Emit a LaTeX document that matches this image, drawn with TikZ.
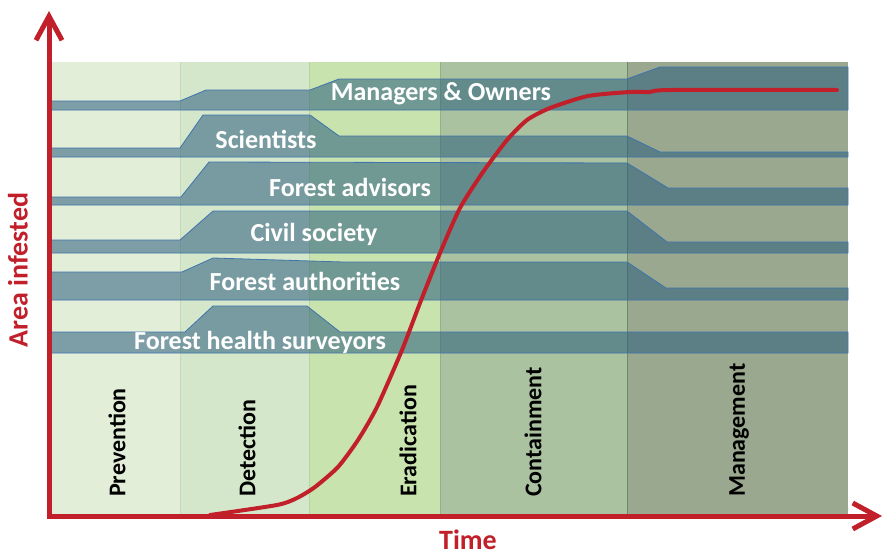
\documentclass[tikz,border=0pt]{standalone}
\usepackage{fontspec}
\setmainfont{Carlito}
\usetikzlibrary{arrows.meta}

\definecolor{prevcol}{HTML}{E3EED9}
\definecolor{detcol}{HTML}{D5E7CA}
\definecolor{eradcol}{HTML}{C9E3AE}
\definecolor{contcol}{HTML}{AAC29F}
\definecolor{mgmtcol}{HTML}{9AA88F}
\definecolor{bandcol}{HTML}{2A5E7E}
\definecolor{bandline}{HTML}{3F74AE}
\definecolor{axisred}{HTML}{C1202A}

\begin{document}
\begin{tikzpicture}[x = 1pt, y = -1pt,
    band/.style = {fill = bandcol, fill opacity = .55, draw = bandline, line width = .8pt},
    bandlabel/.style = {text = white, inner sep = 0pt, font = \fontsize{26}{30}\selectfont\bfseries},
    phaselabel/.style = {rotate = 90, anchor = west, inner sep = 0pt, font = \fontsize{24}{28}\selectfont\bfseries},
    axislabel/.style = {text = axisred, inner sep = 0pt, font = \fontsize{28}{32}\selectfont\bfseries},
    axisline/.style = {draw = axisred, line width = 5pt, line join = miter, >={Straight Barb[length = 24pt, width = 26pt]}, <->}]

    \useasboundingbox (0,0) rectangle (885,557);

    % phases of the invasion
    \foreach \xa/\xb/\xl/\col/\name/\txt in {52/180/117/prevcol/prevention/Prevention, 180/309/247/detcol/detection/Detection, 309/440/408/eradcol/eradication/Eradication, 440/627/533/contcol/containment/Containment, 627/848/739/mgmtcol/management/Management} {
      \fill [\col] (\xa,62) rectangle (\xb,514);
      \node [phaselabel] (\name) at (\xl,497) {\txt};
    }
    \foreach \x/\col in {180/C3DBB4, 309/B5D39B, 440/95B285, 627/6E8A66} {
      \definecolor{sepcol}{HTML}{\col}
      \draw [sepcol, thin] (\x,62) -- (\x,514);
    }

    % actors
    \draw [band] (51,110) -- (51,101) -- (180,101) -- (206,90) -- (310,90) -- (339,79) -- (627,79) -- (660,67) -- (848,67) -- (848,110) -- cycle;
    \draw [band] (51,157) -- (51,148) -- (180,148) -- (203,115) -- (310,115) -- (339,136) -- (627,136) -- (660,152) -- (848,152) -- (848,157) -- cycle;
    \draw [band] (51,205) -- (51,197) -- (181,197) -- (209,162) -- (627,163) -- (668,188) -- (848,188) -- (848,205) -- cycle;
    \draw [band] (51,253) -- (51,240) -- (180,240) -- (213,211) -- (627,211) -- (667,242) -- (848,242) -- (848,253) -- cycle;
    \draw [band] (51,300) -- (51,272) -- (182,272) -- (213,258) -- (343,262) -- (627,262) -- (666,288) -- (848,288) -- (848,300) -- cycle;
    \draw [band] (51,353) -- (51,332) -- (185,332) -- (213,306) -- (307,306) -- (340,332) -- (848,332) -- (848,353) -- cycle;

    \node [bandlabel] (managers) at (441,94) {Managers \& Owners};
    \node [bandlabel] (scientists) at (266,139) {Scientists};
    \node [bandlabel] (advisors) at (350,187) {Forest advisors};
    \node [bandlabel] (civil) at (314,234) {Civil society};
    \node [bandlabel] (authorities) at (305,281) {Forest authorities};
    \node [bandlabel] (surveyors) at (260,342) {Forest health surveyors};

    % area infested over time
    \draw [axisred, line width = 4pt, line cap = round, line join = round] plot [smooth, tension = .4] coordinates {(210,515) (277,505) (297,498) (315,487) (338,467) (358,440) (377,407) (402,350) (420,303) (440,253) (460,208) (483,172) (507,140) (527,120) (550,108) (588,96) (630,92) (650,92) (670,90) (837,90)};

    % axes
    \coordinate (origin) at (49,516);
    \coordinate (ytip) at (49,11);
    \coordinate (xtip) at (882,516);
    \draw [axisline] (ytip) -- (origin) -- (xtip);
    \node [axislabel, rotate = 90] (arealabel) at (18,270) {Area infested};
    \node [axislabel] (timelabel) at (468,540) {Time};
\end{tikzpicture}
\end{document}
